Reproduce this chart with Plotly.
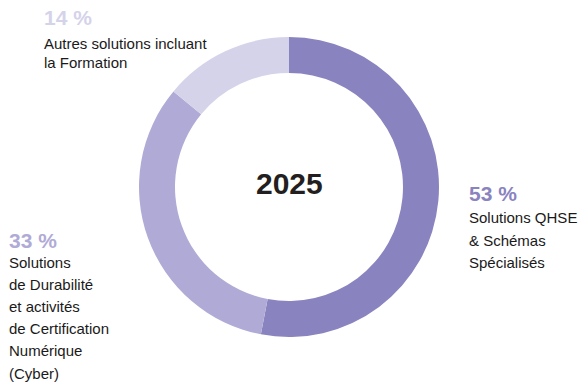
import plotly.graph_objects as go

# Revenue split by activity, 2025
year = "2025"
categories = [
    "Solutions QHSE & Schémas Spécialisés",
    "Solutions de Durabilité et activités de Certification Numérique (Cyber)",
    "Autres solutions incluant la Formation",
]
shares = [53, 33, 14]
label_lines = [
    ["Solutions QHSE", "& Schémas", "Spécialisés"],
    ["Solutions", "de Durabilité", "et activités", "de Certification", "Numérique", "(Cyber)"],
    ["Autres solutions incluant", "la Formation"],
]
colors = ["#8983bf", "#b0abd6", "#d5d3ea"]

W, H = 582, 383
FONT = "Liberation Sans, Arial, sans-serif"

fig = go.Figure(
    go.Pie(
        labels=categories,
        values=shares,
        hole=0.76,
        sort=False,
        direction="clockwise",
        rotation=0,
        marker=dict(colors=colors, line=dict(width=0)),
        textinfo="none",
        hoverinfo="label+percent",
        showlegend=False,
        domain=dict(x=[139 / W, 439 / W], y=[(H - 337) / H, (H - 37) / H]),
    )
)

# (left x, header centre y, first-line centre y, line step) per label block, in pixels
blocks = [
    (468, 193, 218, 22),
    (8, 240, 262, 22.2),
    (43, 17, 43, 19.5),
]

annotations = []
for share, lines, color, (bx, hy, ly, step) in zip(shares, label_lines, colors, blocks):
    annotations.append(dict(
        text=f"<b>{share} %</b>", x=bx / W, y=1 - hy / H, xref="paper", yref="paper",
        xanchor="left", yanchor="middle", showarrow=False, borderpad=0,
        font=dict(family=FONT, size=21, color=color),
    ))
    for i, line in enumerate(lines):
        annotations.append(dict(
            text=line, x=bx / W, y=1 - (ly + i * step) / H, xref="paper", yref="paper",
            xanchor="left", yanchor="middle", showarrow=False, borderpad=0,
            font=dict(family=FONT, size=15, color="#1a1a1a"),
        ))

annotations.append(dict(
    text=f"<b>{year}</b>", x=289 / W, y=1 - 183 / H, xref="paper", yref="paper",
    xanchor="center", yanchor="middle", showarrow=False,
    font=dict(family=FONT, size=30, color="#231f20"),
))

fig.update_layout(
    width=W, height=H,
    margin=dict(l=0, r=0, t=0, b=0),
    paper_bgcolor="white", plot_bgcolor="white",
    annotations=annotations,
)

fig.write_html("out.html", config={"displayModeBar": False})
